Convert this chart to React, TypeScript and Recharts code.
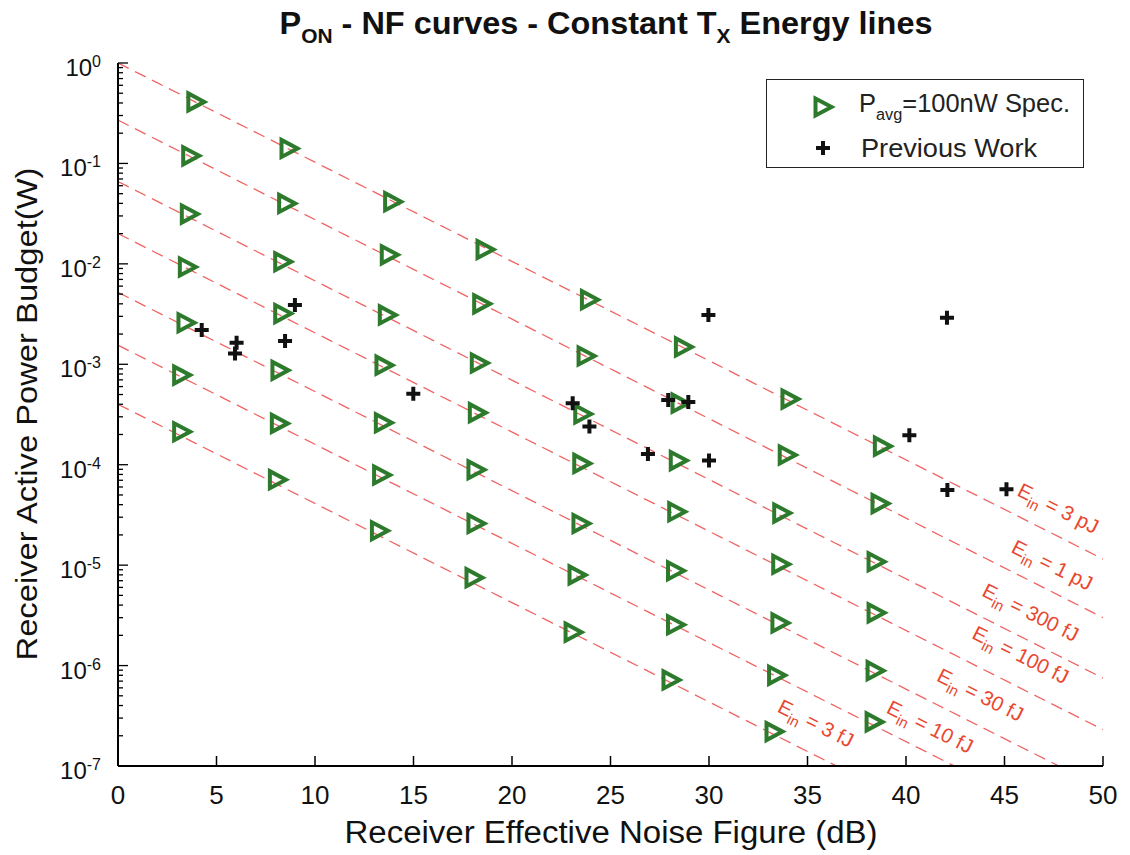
import React from "react";
import {
    ComposedChart,
    Line,
    Scatter,
    XAxis,
    YAxis,
    Legend,
    ReferenceDot,
} from "recharts";

// ─── Data ───────────────────────────────────────────────
// P_avg = 100nW spec points, one array per constant-energy line: [NF (dB), P (W)]
const spec3pJ: [number, number][] = [
    [3.95, 0.41], [8.68, 0.141], [13.94, 0.0416], [18.63, 0.0139],
    [23.93, 0.0044], [28.7, 0.00149], [34.11, 0.00045], [38.8, 0.000153],
];
const spec1pJ: [number, number][] = [
    [3.69, 0.119], [8.56, 0.04], [13.77, 0.0123], [18.46, 0.004],
    [23.76, 0.00121], [28.53, 0.00041], [33.97, 0.000125], [38.68, 4.1e-5],
];
const spec300fJ: [number, number][] = [
    [3.62, 0.0313], [8.36, 0.0105], [13.67, 0.0031], [18.34, 0.00103],
    [23.59, 0.00032], [28.44, 0.00011], [33.69, 3.3e-5], [38.48, 1.08e-5],
];
const spec100fJ: [number, number][] = [
    [3.52, 0.0093], [8.36, 0.0032], [13.5, 0.00098], [18.24, 0.00033],
    [23.54, 0.000103], [28.36, 3.4e-5], [33.64, 1.02e-5], [38.48, 3.35e-6],
];
const spec30fJ: [number, number][] = [
    [3.45, 0.00259], [8.22, 0.00087], [13.47, 0.000262], [18.17, 8.9e-5],
    [23.5, 2.6e-5], [28.3, 8.8e-6], [33.6, 2.66e-6], [38.43, 8.9e-7],
];
const spec10fJ: [number, number][] = [
    [3.23, 0.00078], [8.19, 0.000258], [13.38, 7.9e-5], [18.17, 2.6e-5],
    [23.3, 8e-6], [28.3, 2.55e-6], [33.43, 8e-7], [38.38, 2.75e-7],
];
const spec3fJ: [number, number][] = [
    [3.23, 0.000213], [8.09, 7.1e-5], [13.27, 2.2e-5], [18.07, 7.5e-6],
    [23.1, 2.15e-6], [28.07, 7.2e-7], [33.3, 2.2e-7],
];

// Previous work: [NF (dB), P (W)]
const previousWork: [number, number][] = [
    [4.25, 0.0022], [5.94, 0.00128], [6.02, 0.00164], [8.48, 0.00171],
    [8.98, 0.0039], [14.99, 0.00051], [23.08, 0.00041], [23.93, 0.00024],
    [26.9, 0.000128], [27.93, 0.00044], [28.95, 0.00042], [29.97, 0.0031],
    [30.0, 0.00011], [40.17, 0.000197], [42.08, 0.0029], [42.1, 5.6e-5],
    [45.1, 5.7e-5],
];

// Constant energy lines: value at NF = 0 and at NF = 50
const energyNames = ["3 pJ", "1 pJ", "300 fJ", "100 fJ", "30 fJ", "10 fJ", "3 fJ"];
const lineStartP = [1, 0.27, 0.066, 0.02, 0.0052, 0.00155, 0.0004];
const lineEndP = [1.15e-5, 3.0e-6, 7.5e-7, 2.3e-7, 6e-8, 1.8e-8, 4.6e-9];
const lineNF = [0, 50];

// Where each "E_in = ..." annotation sits
const labelNF = [47.7, 47.4, 46.3, 45.8, 43.75, 41.2, 35.4];
const labelP = [3.6e-5, 9.8e-6, 3.3e-6, 1.25e-6, 5e-7, 2.4e-7, 2.6e-7];

// Axes
const xTicks = [0, 5, 10, 15, 20, 25, 30, 35, 40, 45, 50];
const yDecades = [1e-7, 1e-6, 1e-5, 1e-4, 1e-3, 1e-2, 1e-1, 1e0];
const yMinorSteps = [2, 3, 4, 5, 6, 7, 8, 9];

// ─── Styles ─────────────────────────────────────────────
const FONT = "'Liberation Sans', Arial, Helvetica, sans-serif";
const GREEN = "#2d7a2d";
const LINE_RED = "#f06464";
const LABEL_RED = "#e9472f";

const toRows = (pts: [number, number][]) => pts.map(([nf, p]) => ({ nf, p }));

const specRows = toRows([
    ...spec3pJ, ...spec1pJ, ...spec300fJ, ...spec100fJ,
    ...spec30fJ, ...spec10fJ, ...spec3fJ,
]);
const prevRows = toRows(previousWork);
const energyLines = energyNames.map((name, i) => ({
    name,
    data: [
        { nf: lineNF[0], p: lineStartP[i] },
        { nf: lineNF[1], p: lineEndP[i] },
    ],
}));

const yTicks: number[] = [];
yDecades.forEach((d, i) => {
    yTicks.push(d);
    if (i < yDecades.length - 1) yMinorSteps.forEach((m) => yTicks.push(d * m));
});

// ─── Markers ────────────────────────────────────────────
function SpecMarker({ cx, cy }: { cx?: number; cy?: number }) {
    if (cx == null || cy == null) return null;
    return (
        <polygon
            points={`${cx - 7.5},${cy - 8.5} ${cx - 7.5},${cy + 8.5} ${cx + 8.5},${cy}`}
            fill="none"
            stroke={GREEN}
            strokeWidth={4}
        />
    );
}

function PlusMarker({ cx, cy }: { cx?: number; cy?: number }) {
    if (cx == null || cy == null) return null;
    return (
        <path
            d={`M${cx - 7},${cy}H${cx + 7}M${cx},${cy - 7}V${cy + 7}`}
            stroke="#111"
            strokeWidth={4}
        />
    );
}

function EnergyText({ cx, cy, value }: { cx?: number; cy?: number; value: string }) {
    if (cx == null || cy == null) return null;
    return (
        <g transform={`rotate(26.7 ${cx} ${cy})`}>
            <text
                x={cx}
                y={cy + 6}
                textAnchor="middle"
                fill={LABEL_RED}
                fontSize={20.5}
                fontFamily={FONT}
            >
                E
                <tspan dy={6} fontSize={15}>in</tspan>
                <tspan dy={-6}>{` = ${value}`}</tspan>
            </text>
        </g>
    );
}

// ─── Ticks (drawn inward, MATLAB style) ─────────────────
function XTick({ x, y, payload }: any) {
    return (
        <g>
            <line x1={x} x2={x} y1={y} y2={y - 10} stroke="#000" strokeWidth={1.5} />
            <text x={x} y={y + 38} textAnchor="middle" fontSize={26} fontFamily={FONT} fill="#111">
                {payload.value}
            </text>
        </g>
    );
}

function YTick({ x, y, payload }: any) {
    const lg = Math.log10(payload.value);
    const exp = Math.round(lg);
    const major = Math.abs(lg - exp) < 1e-6;
    return (
        <g>
            <line x1={x} x2={x + (major ? 10 : 5)} y1={y} y2={y} stroke="#000" strokeWidth={1.3} />
            {major && (
                <text x={101} y={y + 13} textAnchor="end" fontSize={24} fontFamily={FONT} fill="#111">
                    10
                    <tspan dy={-9} fontSize={16}>{String(exp)}</tspan>
                </text>
            )}
        </g>
    );
}

// ─── Legend ─────────────────────────────────────────────
function LegendBox() {
    return (
        <div style={{ width: 318, height: 89, boxSizing: "border-box", border: "1.5px solid #222", background: "#fff" }}>
            <svg width={315} height={86}>
                <SpecMarker cx={56} cy={27} />
                <text x={92} y={32} fontSize={25} fontFamily={FONT} fill="#222" textLength={211} lengthAdjust="spacingAndGlyphs">
                    P
                    <tspan dy={8} fontSize={16}>avg</tspan>
                    <tspan dy={-8}>=100nW Spec.</tspan>
                </text>
                <PlusMarker cx={56} cy={68} />
                <text x={94} y={77} fontSize={25} fontFamily={FONT} fill="#222" textLength={176} lengthAdjust="spacingAndGlyphs">
                    Previous Work
                </text>
            </svg>
        </div>
    );
}

// ─── Component ──────────────────────────────────────────
export default function App() {
    return (
        <div style={{ position: "absolute", left: 0, top: 0, width: 1130, height: 855, background: "#fff" }}>
            <ComposedChart
                width={1130}
                height={855}
                margin={{ top: 63, right: 27, bottom: 29, left: 0 }}
            >
                <XAxis
                    dataKey="nf"
                    type="number"
                    domain={[0, 50]}
                    ticks={xTicks}
                    interval={0}
                    height={60}
                    tickSize={0}
                    tickMargin={0}
                    tickLine={false}
                    axisLine={{ stroke: "#000", strokeWidth: 2 }}
                    tick={<XTick />}
                    allowDataOverflow
                />
                <YAxis
                    dataKey="p"
                    type="number"
                    scale="log"
                    domain={[1e-7, 1]}
                    ticks={yTicks}
                    interval={0}
                    width={118}
                    tickSize={0}
                    tickMargin={0}
                    tickLine={false}
                    axisLine={{ stroke: "#000", strokeWidth: 2 }}
                    tick={<YTick />}
                    allowDataOverflow
                />

                {/* Constant energy lines */}
                {energyLines.map((l) => (
                    <Line
                        key={l.name}
                        data={l.data}
                        dataKey="p"
                        type="linear"
                        stroke={LINE_RED}
                        strokeWidth={1.3}
                        strokeDasharray="12 7"
                        dot={false}
                        activeDot={false}
                        legendType="none"
                        isAnimationActive={false}
                    />
                ))}

                <Scatter
                    name="spec"
                    data={specRows}
                    dataKey="p"
                    shape={(p: any) => <SpecMarker cx={p.cx} cy={p.cy} />}
                    isAnimationActive={false}
                />
                <Scatter
                    name="previous"
                    data={prevRows}
                    dataKey="p"
                    shape={(p: any) => <PlusMarker cx={p.cx} cy={p.cy} />}
                    isAnimationActive={false}
                />

                {/* E_in annotations */}
                {energyNames.map((name, i) => (
                    <ReferenceDot
                        key={name}
                        x={labelNF[i]}
                        y={labelP[i]}
                        r={0}
                        ifOverflow="visible"
                        shape={(p: any) => <EnergyText cx={p.cx} cy={p.cy} value={name} />}
                    />
                ))}

                <Legend
                    layout="vertical"
                    align="center"
                    verticalAlign="middle"
                    content={<LegendBox />}
                    wrapperStyle={{ position: "absolute", left: 766, top: 79, width: 318, height: 89 }}
                />
            </ComposedChart>

            {/* Title and axis titles */}
            <svg width={1130} height={855} style={{ position: "absolute", left: 0, top: 0, pointerEvents: "none" }}>
                <text
                    x={606}
                    y={34}
                    textAnchor="middle"
                    fontSize={31}
                    fontWeight="bold"
                    fontFamily={FONT}
                    fill="#111"
                    textLength={653}
                    lengthAdjust="spacingAndGlyphs"
                >
                    P
                    <tspan dy={9} fontSize={20}>ON</tspan>
                    <tspan dy={-9}> - NF curves - Constant T</tspan>
                    <tspan dy={9} fontSize={20}>X</tspan>
                    <tspan dy={-9}> Energy lines</tspan>
                </text>
                <text
                    x={611}
                    y={843}
                    textAnchor="middle"
                    fontSize={31}
                    fontFamily={FONT}
                    fill="#111"
                    textLength={533}
                    lengthAdjust="spacingAndGlyphs"
                >
                    Receiver Effective Noise Figure (dB)
                </text>
                <text
                    transform="translate(37 414) rotate(-90)"
                    x={0}
                    y={0}
                    textAnchor="middle"
                    fontSize={30}
                    fontFamily={FONT}
                    fill="#111"
                    textLength={493}
                    lengthAdjust="spacingAndGlyphs"
                >
                    Receiver Active Power Budget(W)
                </text>
            </svg>
        </div>
    );
}
